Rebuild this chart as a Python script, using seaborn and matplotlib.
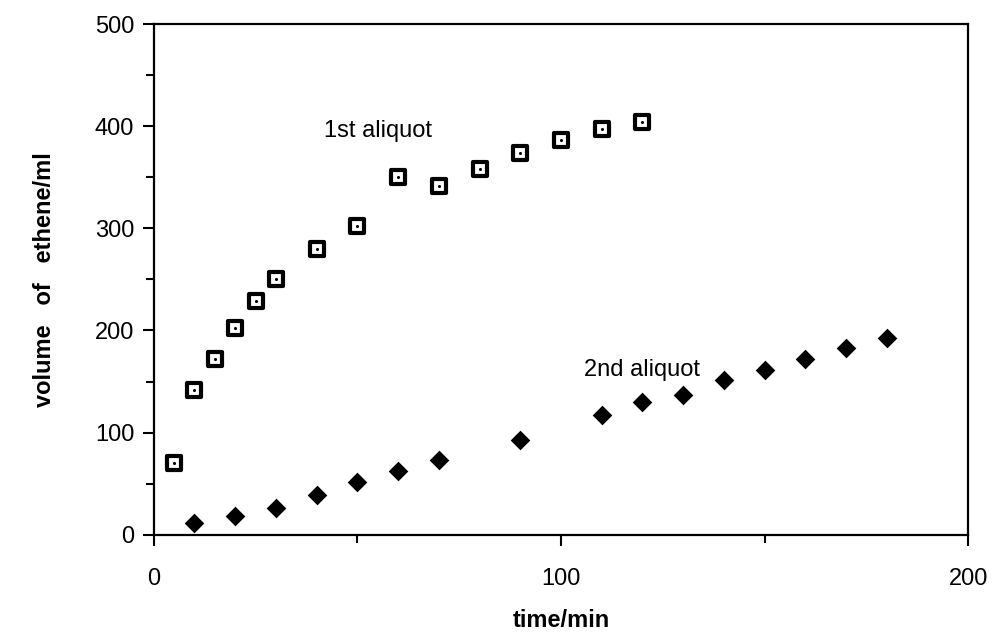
import matplotlib
matplotlib.use("Agg")
import matplotlib.pyplot as plt
import seaborn as sns
import pandas as pd
from matplotlib.ticker import MultipleLocator

# --- data ---
first_time = [5, 10, 15, 20, 25, 30, 40, 50, 60, 70, 80, 90, 100, 110, 120]
first_volume = [70, 142, 172, 202, 229, 250, 280, 302, 350, 341, 358, 374, 387, 397, 404]

second_time = [10, 20, 30, 40, 50, 60, 70, 90, 110, 120, 130, 140, 150, 160, 170, 180]
second_volume = [11, 18, 26, 39, 52, 62, 73, 93, 117, 130, 137, 151, 161, 172, 183, 193]

first_df = pd.DataFrame({"time": first_time, "volume": first_volume})
second_df = pd.DataFrame({"time": second_time, "volume": second_volume})

sns.set_style("ticks")
plt.rcParams["font.family"] = ["Liberation Sans", "DejaVu Sans"]
plt.rcParams["text.color"] = "black"
plt.rcParams["axes.labelcolor"] = "black"

fig = plt.figure(figsize=(9.92, 6.35), dpi=100)
ax = fig.add_axes([0.155, 0.158, 0.821, 0.804])

# open squares with a dot in the middle
sns.scatterplot(data=first_df, x="time", y="volume", ax=ax, marker="s", s=90,
                facecolor="white", edgecolor="black", linewidth=3.0, zorder=3)
sns.scatterplot(data=first_df, x="time", y="volume", ax=ax, marker="o", s=5,
                color="black", linewidth=0, zorder=4)
# filled diamonds
sns.scatterplot(data=second_df, x="time", y="volume", ax=ax, marker="D", s=100,
                color="black", linewidth=0, zorder=3)

ax.set_xlim(0, 200)
ax.set_ylim(0, 500)
ax.xaxis.set_major_locator(MultipleLocator(100))
ax.xaxis.set_minor_locator(MultipleLocator(50))
ax.yaxis.set_major_locator(MultipleLocator(100))
ax.yaxis.set_minor_locator(MultipleLocator(50))

for side in ["top", "right", "left", "bottom"]:
    ax.spines[side].set_visible(True)
    ax.spines[side].set_linewidth(1.6)
    ax.spines[side].set_color("black")

ax.tick_params(axis="both", which="major", direction="out", length=8, width=1.5,
               color="black", labelsize=17, labelcolor="black")
ax.tick_params(axis="both", which="minor", direction="out", length=6, width=1.5,
               color="black")
ax.tick_params(axis="x", which="major", pad=16)
ax.tick_params(axis="y", which="major", pad=6)

ax.text(55, 395, "1st aliquot", fontsize=17, ha="center", va="center", color="black")
ax.text(120, 161, "2nd aliquot", fontsize=17, ha="center", va="center", color="black")

ax.set_xlabel("time/min", fontsize=17, fontweight="bold", labelpad=14, color="black")
ax.set_ylabel("volume   of   ethene/ml", fontsize=17, fontweight="bold", labelpad=28,
              color="black")

fig.savefig("out.png", dpi=100, facecolor="white")
